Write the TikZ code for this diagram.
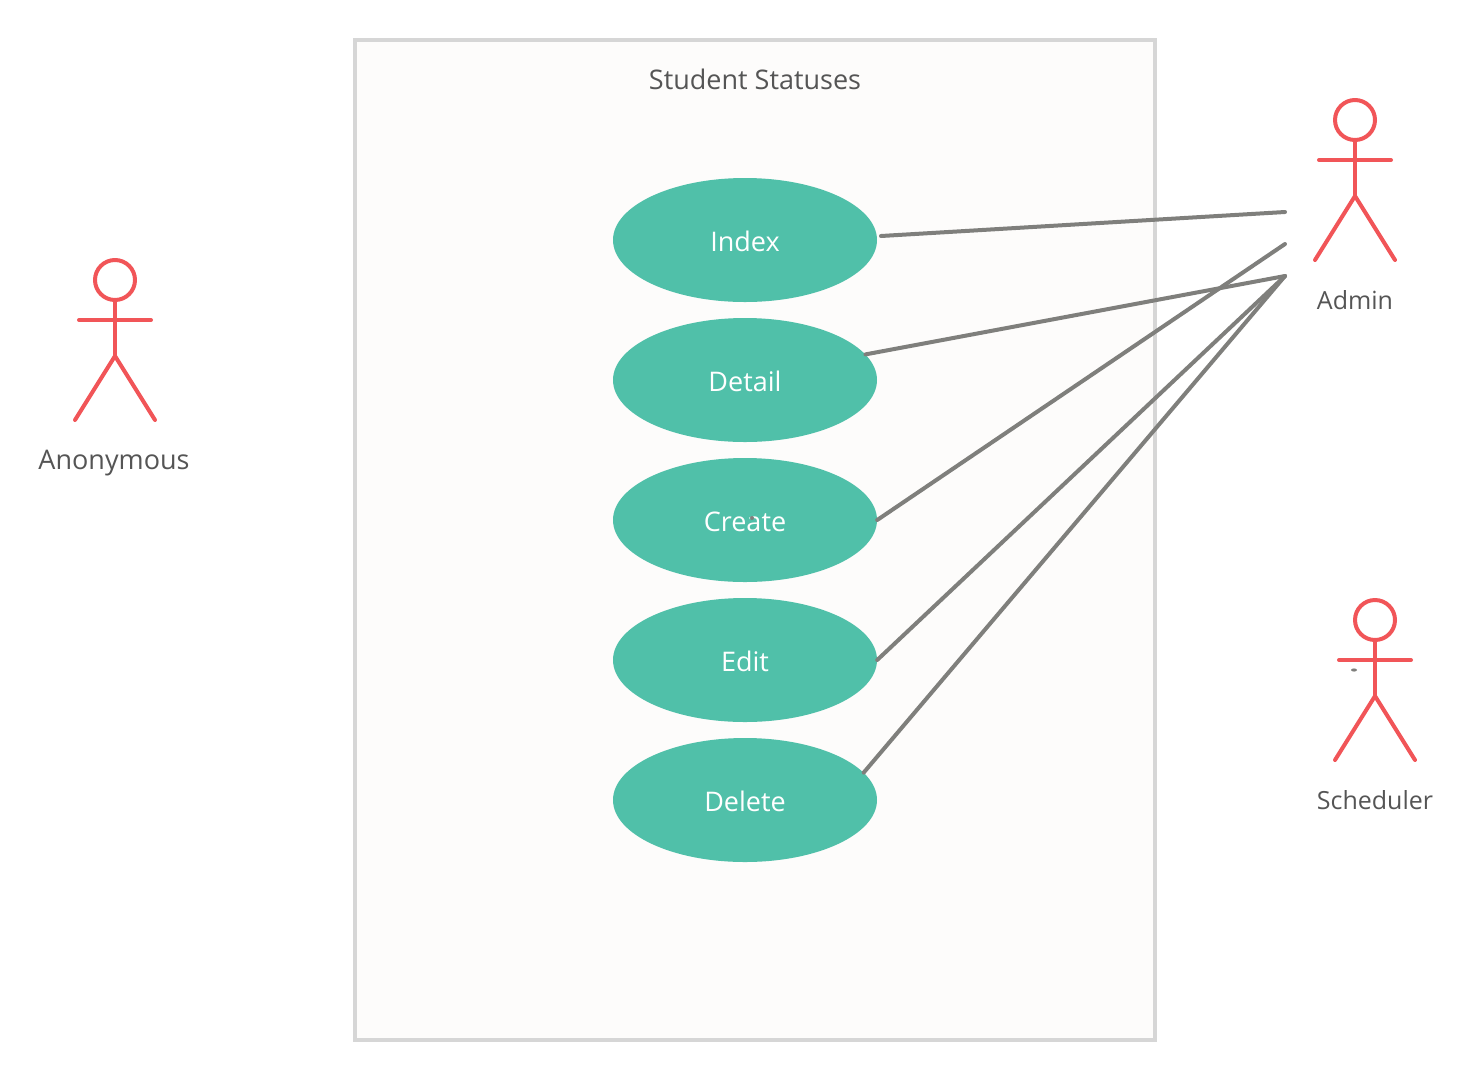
\documentclass[tikz,border=0pt]{standalone}
\usepackage{fontspec}
\setmainfont{Open Sans}
\usetikzlibrary{shapes.geometric}
\definecolor{actorred}{HTML}{F15558}
\definecolor{caseteal}{HTML}{50C0A9}
\definecolor{linkgray}{HTML}{7F7F7C}
\definecolor{framegray}{HTML}{D6D6D6}
\definecolor{framefill}{HTML}{FDFCFB}
\definecolor{textgray}{HTML}{555555}
\tikzset{
  x=1pt,y=-1pt,
  usecase/.style={ellipse,fill=caseteal,inner sep=0pt,minimum width=264pt,minimum height=124pt,text=white,text height=22pt,text depth=0pt,font=\fontsize{27}{30}\selectfont},
  lbl/.style={text=textgray,inner sep=0pt,text height=22pt,text depth=0pt,font=\fontsize{27}{30}\selectfont},
  smalllbl/.style={lbl,font=\fontsize{25}{30}\selectfont},
  link/.style={draw=linkgray,line width=4pt,line cap=round},
  limb/.style={draw=actorred,line width=4pt,line cap=round,line join=round},
  speck/.style={fill=linkgray,draw=none},
  pics/actor/.style={code={
    \draw[limb] (0,-20) circle[radius=20];
    \draw[limb] (0,0) -- (0,56);
    \draw[limb] (-36,20) -- (36,20);
    \draw[limb] (-40,120) -- (0,56) -- (40,120);
  }}
}
\begin{document}
\begin{tikzpicture}
\useasboundingbox (0,0) rectangle (1473,1080);
\node[draw=framegray,fill=framefill,line width=4pt,minimum width=800pt,minimum height=1000pt,inner sep=0pt] (sys) at (755,540) {};
\node[lbl] (title) at (755,78) {Student Statuses};
\node[usecase] (index) at (745,240) {Index};
\node[usecase] (detail) at (745,380) {Detail};
\node[usecase] (create) at (745,520) {Create};
\node[usecase] (edit) at (745,660) {Edit};
\node[usecase] (delete) at (745,800) {Delete};
\pic at (115,300) {actor};
\pic at (1355,140) {actor};
\pic at (1375,640) {actor};
\node[lbl] (anon) at (114,458) {Anonymous};
\node[smalllbl] (admin) at (1355,298) {Admin};
\node[smalllbl] (sched) at (1375,798) {Scheduler};
\coordinate (a1) at (1285,212);
\coordinate (a2) at (1285,244);
\coordinate (a3) at (1285,276);
\coordinate (s0) at (881,236);
\draw[link] (s0) -- (a1);
\draw[link] (detail.12.5) -- (a3);
\draw[link] (create.east) -- (a2);
\draw[link] (edit.east) -- (a3);
\draw[link] (delete.13) -- (a3);
\fill[speck] (752,518) circle[radius=2];
\fill[speck] (1354,670) ellipse[x radius=3,y radius=1.6];
\end{tikzpicture}
\end{document}
